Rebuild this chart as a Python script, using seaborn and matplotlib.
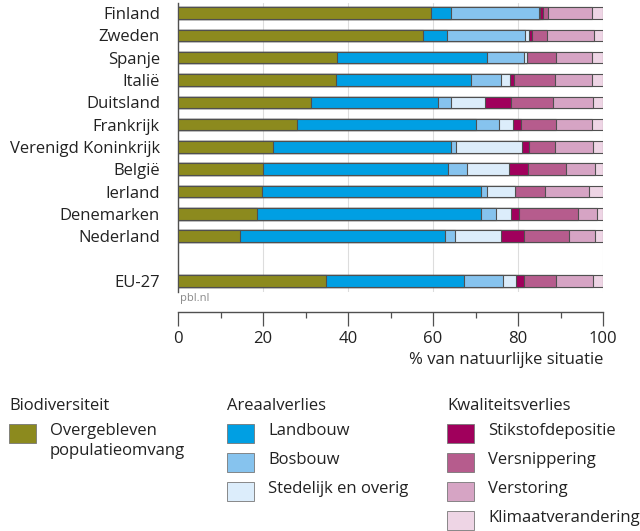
import numpy as np
import pandas as pd
import matplotlib
matplotlib.use("Agg")
from matplotlib import pyplot as plt
from matplotlib.patches import Rectangle
import seaborn as sns

sns.set_style("white")
plt.rcParams['font.family'] = ['Open Sans', 'DejaVu Sans']

# landen (van boven naar onder), EU-27 apart onderaan
landen = ['Finland', 'Zweden', 'Spanje', 'Italië', 'Duitsland', 'Frankrijk',
          'Verenigd Koninkrijk', 'België', 'Ierland', 'Denemarken', 'Nederland', 'EU-27']

# aandeel per oorzaak, % van natuurlijke situatie
overgebleven = [59.5, 57.7, 37.5, 37.2, 31.3, 27.9, 22.3, 20.1, 19.7, 18.5, 14.7, 34.9]
landbouw     = [4.8, 5.6, 35.3, 31.7, 29.8, 42.3, 41.9, 43.5, 51.7, 52.9, 48.2, 32.3]
bosbouw      = [20.6, 18.4, 8.6, 7.0, 3.2, 5.3, 1.1, 4.3, 1.3, 3.5, 2.3, 9.3]
stedelijk    = [0.3, 0.9, 0.7, 2.2, 8.0, 3.3, 15.7, 9.9, 6.5, 3.5, 10.7, 3.1]
stikstof     = [0.7, 0.7, 0.0, 1.0, 6.0, 2.0, 1.6, 4.6, 0.0, 1.8, 5.4, 1.7]
versnipper   = [1.1, 3.6, 6.9, 9.7, 9.9, 8.2, 6.0, 8.8, 7.1, 13.9, 10.6, 7.7]
verstoring   = [10.5, 10.9, 8.3, 8.7, 9.4, 8.5, 9.0, 6.8, 10.3, 4.5, 6.1, 8.6]
klimaat      = [2.5, 2.2, 2.7, 2.5, 2.4, 2.5, 2.4, 2.0, 3.4, 1.4, 2.0, 2.4]

segmenten = ['Overgebleven\npopulatieomvang', 'Landbouw', 'Bosbouw', 'Stedelijk en overig',
             'Stikstofdepositie', 'Versnippering', 'Verstoring', 'Klimaatverandering']
kleuren = ['#8c8a1e', '#009fe3', '#86c3ee', '#dcedfb',
           '#a0005c', '#b65c8d', '#d6a4c4', '#eed5e5']
groepen = [('Biodiversiteit', [0]), ('Areaalverlies', [1, 2, 3]),
           ('Kwaliteitsverlies', [4, 5, 6, 7])]

df = pd.DataFrame({'land': landen})
waarden = [overgebleven, landbouw, bosbouw, stedelijk, stikstof, versnipper, verstoring, klimaat]
cum = np.cumsum(np.array(waarden), axis=0)
for i in range(len(segmenten)):
    df['c%d' % i] = cum[i]

# lege plek tussen Nederland en EU-27
volgorde = landen[:11] + [' '] + ['EU-27']

fig = plt.figure(figsize=(6.4, 5.31), dpi=100)
ax = fig.add_axes([178 / 640, 1 - 292 / 531, 425 / 640, 289 / 531])

edge = '#505050'
for i in reversed(range(len(segmenten))):
    sns.barplot(data=df, y='land', x='c%d' % i, order=volgorde, orient='h',
                color=kleuren[i], saturation=1, edgecolor=edge, linewidth=0.8,
                width=0.52, errorbar=None, ax=ax, zorder=3)

ax.set_xlim(0, 100)
ax.set_ylim(12.5, -0.45)
ax.set_ylabel('')
ax.set_xlabel('% van natuurlijke situatie', loc='right', fontsize=12, color='#222222',
              labelpad=3)
ax.set_xticks(np.arange(0, 101, 20))
ax.set_xticks(np.arange(10, 100, 20), minor=True)
ax.grid(axis='x', color='#dddddd', linewidth=0.8, zorder=0)
ax.tick_params(axis='y', length=0, pad=13, labelsize=12, labelcolor='#222222')
ax.tick_params(axis='x', which='major', length=10, width=0.9, color=edge,
               labelsize=12, pad=4, labelcolor='#222222', bottom=True)
ax.tick_params(axis='x', which='minor', length=4, width=0.9, color=edge, bottom=True)
for s in ['top', 'right']:
    ax.spines[s].set_visible(False)
ax.spines['left'].set_color(edge)
ax.spines['left'].set_linewidth(1.0)
ax.spines['bottom'].set_position(('outward', 14.4))
ax.spines['bottom'].set_color(edge)
ax.spines['bottom'].set_linewidth(1.0)

fig.text(180 / 640, 1 - 298 / 531, 'pbl.nl', fontsize=8, color='#888888', va='center')

# legenda
W, H = 640, 531
xs = [9, 227, 447]
for (titel, idx), x0 in zip(groepen, xs):
    fig.text(x0 / W, 1 - 406 / H, titel, fontsize=12, color='#222222', va='center')
    for k, j in enumerate(idx):
        yc = 433 + k * 29
        fig.add_artist(Rectangle((x0 / W, 1 - (yc + 9.5) / H), 27 / W, 19 / H,
                                 transform=fig.transFigure, facecolor=kleuren[j],
                                 edgecolor='#777777', linewidth=0.6))
        fig.text((x0 + 41) / W, 1 - (yc - 10) / H, segmenten[j], fontsize=12,
                 color='#222222', va='top', linespacing=1.35)

fig.savefig('out.png', dpi=100)
